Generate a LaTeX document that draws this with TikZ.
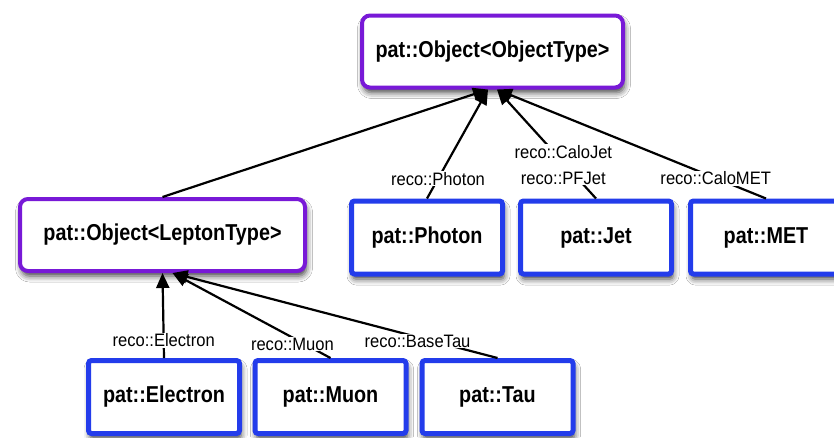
\documentclass[tikz,border=0pt]{standalone}
\usepackage{fontspec}
\setmainfont{Liberation Sans}
\newfontfamily\boxfont[FakeStretch=0.86]{Liberation Sans}
\newfontfamily\lblfont[FakeStretch=0.92]{Liberation Sans}
\usetikzlibrary{arrows.meta,shadows.blur}
\definecolor{basepurple}{RGB}{120,25,215}
\definecolor{leafblue}{RGB}{35,60,235}

\begin{document}
\begin{tikzpicture}[x=1pt,y=-1pt,
  boxshadow/.style={blur shadow={shadow xshift=1.5pt, shadow yshift=-5pt,
      shadow blur radius=6pt, shadow opacity=75}},
  basebox/.style={draw=basepurple, line width=4pt, rounded corners=8pt,
      fill=white, minimum width=#1, minimum height=72pt, boxshadow,
      font=\boxfont\bfseries\fontsize{23}{26}\selectfont},
  leafbox/.style={draw=leafblue, line width=5pt, rounded corners=3pt,
      fill=white, minimum width=151pt, minimum height=73pt, boxshadow,
      font=\boxfont\bfseries\fontsize{23}{26}\selectfont},
  inh/.style={line width=2.2pt, -{Triangle[length=15pt,width=13pt]}},
  lbl/.style={fill=white, inner sep=1pt, align=center,
      font=\lblfont\fontsize{18}{26}\selectfont}
]
\useasboundingbox (0,0) rectangle (834,437);
\fill[white] (0,0) rectangle (834,437);
\clip (0,0) rectangle (834,437);

% class boxes
\node[basebox=261pt] (top) at (492.5,51.5) {pat::Object<ObjectType>};
\node[basebox=285pt] (lep) at (162.5,235) {pat::Object<LeptonType>};

\node[leafbox] (photon) at (427,237.5) {pat::Photon};
\node[leafbox] (jet)    at (596,237.5) {pat::Jet};
\node[leafbox] (met)    at (766,237.5) {pat::MET};

\node[leafbox] (electron) at (164,397) {pat::Electron};
\node[leafbox] (muon)     at (330.5,397) {pat::Muon};
\node[leafbox] (tau)      at (497.5,397) {pat::Tau};

% inheritance connectors
\draw[inh] (lep.north) -- ([xshift=-4.5pt]top.south);
\draw[inh] (photon.north) -- node[lbl,pos=0.18]{reco::Photon} ([xshift=-4.5pt]top.south);
\draw[inh] (jet.north) -- node[lbl,pos=0.31,xshift=-2pt]{reco::CaloJet\\reco::PFJet} ([xshift=4.5pt]top.south);
\draw[inh] (met.north) -- node[lbl,pos=0.187]{reco::CaloMET} ([xshift=4.5pt]top.south);

\draw[inh] (electron.north) -- node[lbl,pos=0.21]{reco::Electron} (lep.south);
\draw[inh] (muon.north) -- node[lbl,pos=0.165,xshift=-12pt]{reco::Muon} ([xshift=10pt]lep.south);
\draw[inh] (tau.north) -- node[lbl,pos=0.2,xshift=-15pt]{reco::BaseTau} ([xshift=10pt]lep.south);
\end{tikzpicture}
\end{document}
